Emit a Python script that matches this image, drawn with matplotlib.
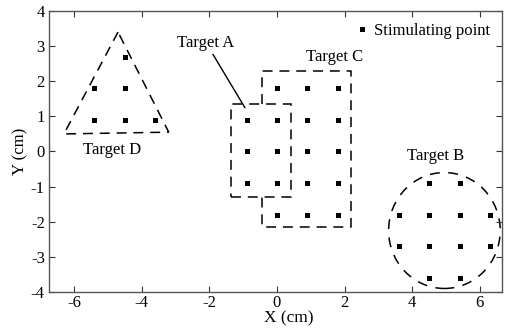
import matplotlib
matplotlib.use("Agg")
import matplotlib.pyplot as plt
from matplotlib.patches import Circle, Polygon, Rectangle
from matplotlib.lines import Line2D

plt.rcParams['font.family'] = ['Liberation Serif', 'DejaVu Serif']

# Stimulating points (cm)
grid_x = [-0.9, 0.0, 0.9, 1.8, -0.9, 0.0, 0.9, 1.8, -0.9, 0.0, 0.9, 1.8,
          0.0, 0.9, 1.8, 0.0, 0.9, 1.8]
grid_y = [0.9, 0.9, 0.9, 0.9, 0.0, 0.0, 0.0, 0.0, -0.9, -0.9, -0.9, -0.9,
          1.8, 1.8, 1.8, -1.8, -1.8, -1.8]
tri_x = [-4.5, -5.4, -4.5, -5.4, -4.5, -3.6]
tri_y = [2.7, 1.8, 1.8, 0.9, 0.9, 0.9]
circ_x = [4.5, 5.4, 3.6, 4.5, 5.4, 6.3, 3.6, 4.5, 5.4, 6.3, 4.5, 5.4]
circ_y = [-0.9, -0.9, -1.8, -1.8, -1.8, -1.8, -2.7, -2.7, -2.7, -2.7, -3.6, -3.6]

# Target regions
target_a = (-1.35, -1.3, 0.4, 1.35)       # x0, y0, x1, y1
target_c = (-0.45, -2.15, 2.2, 2.3)
target_b_center = (4.95, -2.25)
target_b_radius = 1.65
target_d = [(-4.7, 3.4), (-6.3, 0.5), (-3.2, 0.55)]

xticks = [-6, -4, -2, 0, 2, 4, 6]
yticks = [-4, -3, -2, -1, 0, 1, 2, 3, 4]

fig = plt.figure(figsize=(5.08, 3.28), dpi=100)
ax = fig.add_axes([0.0965, 0.1098, 0.8915, 0.8567])

dash = (0, (6.5, 4.5))
lw = 1.1

# Target A: full rectangle
ax.add_patch(Rectangle((target_a[0], target_a[1]), target_a[2] - target_a[0],
                       target_a[3] - target_a[1], fill=False, ec='black',
                       lw=lw, linestyle=dash))
# Target C: outline, left edge hidden where it passes through Target A
cx = [target_c[0], target_c[0], target_c[2], target_c[2], target_c[0], target_c[0]]
cy = [target_a[3], target_c[3], target_c[3], target_c[1], target_c[1], target_a[1]]
ax.plot(cx, cy, color='black', lw=lw, linestyle=dash)
# Target B: circle
ax.add_patch(Circle(target_b_center, target_b_radius, fill=False, ec='black',
                    lw=lw, linestyle=(0, (6.5, 5.5))))
# Target D: triangle
ax.add_patch(Polygon(target_d, closed=True, fill=False, ec='black', lw=lw,
                     linestyle=dash))

ms = 3.6
ax.plot(grid_x, grid_y, 's', color='black', ms=ms, mew=0)
ax.plot(tri_x, tri_y, 's', color='black', ms=ms, mew=0)
ax.plot(circ_x, circ_y, 's', color='black', ms=ms, mew=0)

fs = 12
ax.text(-2.12, 3.08, 'Target A', ha='center', va='center', fontsize=fs)
ax.plot([-1.89, -0.95], [2.76, 1.25], color='black', lw=1.0)
ax.text(1.69, 2.68, 'Target C', ha='center', va='center', fontsize=fs)
ax.text(4.68, -0.14, 'Target B', ha='center', va='center', fontsize=fs)
ax.text(-4.87, 0.03, 'Target D', ha='center', va='center', fontsize=fs)

handle = Line2D([], [], marker='s', color='black', linestyle='none',
                ms=ms, mew=0)
ax.legend([handle], ['Stimulating point'], loc='upper right',
          bbox_to_anchor=(1.0, 1.0), frameon=False, fontsize=fs,
          handlelength=0.6, handletextpad=0.4, borderaxespad=0.3)

ax.set_xlim(-6.74, 6.65)
ax.set_ylim(-4, 4)
ax.set_xticks(xticks)
ax.set_yticks(yticks)
ax.set_xticklabels([str(t) for t in xticks])
ax.set_yticklabels([str(t) for t in yticks])
ax.tick_params(direction='in', top=True, right=True, length=4, width=0.8,
               labelsize=fs, color='#333333')
ax.tick_params(axis='x', pad=2)
ax.tick_params(axis='y', pad=3)
for s in ax.spines.values():
    s.set_color('#555555')
    s.set_linewidth(1.0)
ax.set_xlabel('X (cm)', fontsize=12.5)
ax.xaxis.set_label_coords(0.529, -0.066)
ax.set_ylabel('Y (cm)', fontsize=fs, labelpad=2)

fig.savefig('out.png', dpi=100)
